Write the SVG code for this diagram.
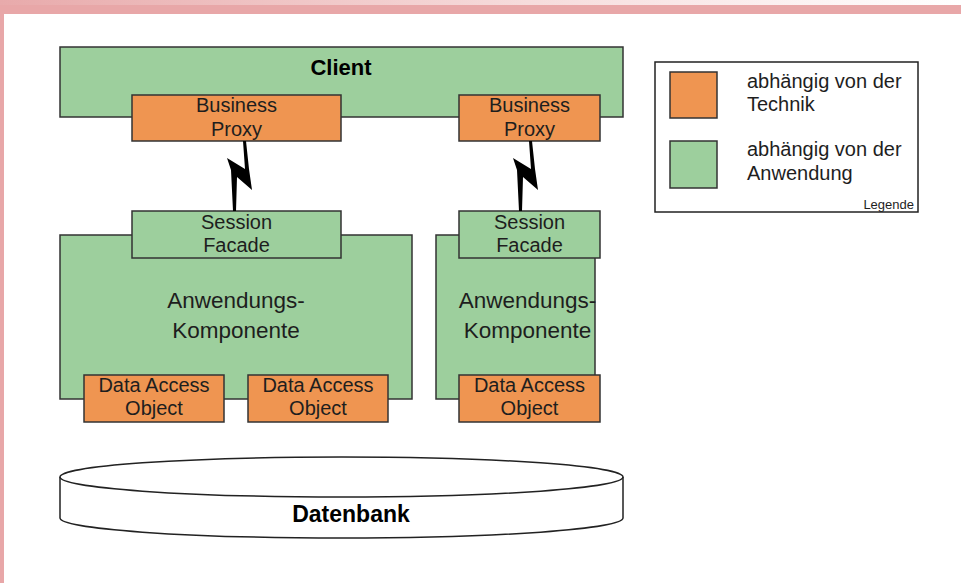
<svg xmlns="http://www.w3.org/2000/svg" width="961" height="583" viewBox="0 0 961 583">
  <defs>
    <linearGradient id="topFade" x1="0" y1="0" x2="1" y2="0">
      <stop offset="0" stop-color="#e8aaab"/>
      <stop offset="0.55" stop-color="#f6dcdc"/>
      <stop offset="1" stop-color="#ffffff"/>
    </linearGradient>
    <path id="bolt" d="M227,158 L245,169 L243,141 L246,141 L249,169 L252,190 L237,177 L236,211 L233,211 L231,170 Z"/>
  </defs>
  <style>
    .app { fill: #9dcf9d; stroke: #333; stroke-width: 1.5; }
    .tech { fill: #ef9551; stroke: #333; stroke-width: 1.5; }
    text { font-family: Arial, "Liberation Sans", Helvetica, sans-serif; fill: #1e1e1e; text-anchor: middle; }
    .box { font-size: 20px; }
    .big { font-size: 22.5px; }
    .bold { font-size: 22px; font-weight: bold; fill: #000; }
    .db { font-size: 23px; }
    .leg { font-size: 20px; text-anchor: start; }
    .small { font-size: 13px; text-anchor: end; }
    .bolt { fill: #000; }
  </style>

  <!-- page frame -->
  <rect x="0" y="0" width="961" height="583" fill="#ffffff"/>
  <rect x="0" y="0" width="961" height="5" fill="url(#topFade)"/>
  <rect x="0" y="5" width="961" height="9" fill="#e8a7a8"/>
  <rect x="0" y="14" width="4" height="569" fill="#e8a7a8"/>

  <!-- client -->
  <g id="client">
    <rect class="app" x="60" y="47" width="563" height="70"/>
    <text class="bold" x="341" y="75">Client</text>
  </g>

  <g id="proxy-left">
    <rect class="tech" x="132" y="95" width="209" height="46"/>
    <text class="box" x="236.5" y="112">Business</text>
    <text class="box" x="236.5" y="136">Proxy</text>
  </g>
  <g id="proxy-right">
    <rect class="tech" x="459" y="95" width="141" height="46"/>
    <text class="box" x="529.5" y="112">Business</text>
    <text class="box" x="529.5" y="136">Proxy</text>
  </g>

  <!-- application components -->
  <g id="component-left">
    <rect class="app" x="60" y="235" width="352" height="164"/>
    <text class="big" x="236" y="308">Anwendungs-</text>
    <text class="big" x="236" y="338">Komponente</text>
  </g>
  <g id="component-right">
    <rect class="app" x="436" y="235" width="159" height="164"/>
    <text class="big" x="527.5" y="308">Anwendungs-</text>
    <text class="big" x="527.5" y="338">Komponente</text>
  </g>

  <g id="facade-left">
    <rect class="app" x="132" y="211" width="209" height="47"/>
    <text class="box" x="236.5" y="229">Session</text>
    <text class="box" x="236.5" y="252">Facade</text>
  </g>
  <g id="facade-right">
    <rect class="app" x="459" y="211" width="141" height="47"/>
    <text class="box" x="529.5" y="229">Session</text>
    <text class="box" x="529.5" y="252">Facade</text>
  </g>

  <g id="dao-left-1">
    <rect class="tech" x="84" y="375" width="140" height="47"/>
    <text class="box" x="154" y="392">Data Access</text>
    <text class="box" x="154" y="415">Object</text>
  </g>
  <g id="dao-left-2">
    <rect class="tech" x="248" y="375" width="140" height="47"/>
    <text class="box" x="318" y="392">Data Access</text>
    <text class="box" x="318" y="415">Object</text>
  </g>
  <g id="dao-right">
    <rect class="tech" x="459" y="375" width="141" height="47"/>
    <text class="box" x="529.5" y="392">Data Access</text>
    <text class="box" x="529.5" y="415">Object</text>
  </g>

  <!-- database cylinder -->
  <g id="database">
    <path d="M60,477 L60,518 A281.5,20 0 0 0 623,518 L623,477 A281.5,20 0 0 0 60,477 Z" fill="#ffffff" stroke="#222" stroke-width="1.5"/>
    <path d="M60,477 A281.5,20 0 0 0 623,477" fill="none" stroke="#222" stroke-width="1.5"/>
    <text class="bold db" x="351" y="522">Datenbank</text>
  </g>

  <!-- remote links -->
  <g id="connectors">
    <use href="#bolt" class="bolt"/>
    <use href="#bolt" class="bolt" transform="translate(286,0)"/>
  </g>

  <!-- legend -->
  <g id="legend">
    <rect x="655" y="62" width="263" height="150" fill="#ffffff" stroke="#222" stroke-width="1.5"/>
    <rect class="tech" x="670" y="72" width="47" height="46"/>
    <rect class="app" x="670" y="141" width="47" height="47"/>
    <text class="leg" x="747" y="88">abhängig von der</text>
    <text class="leg" x="747" y="111">Technik</text>
    <text class="leg" x="747" y="156">abhängig von der</text>
    <text class="leg" x="747" y="180">Anwendung</text>
    <text class="small" x="914" y="209">Legende</text>
  </g>
</svg>
